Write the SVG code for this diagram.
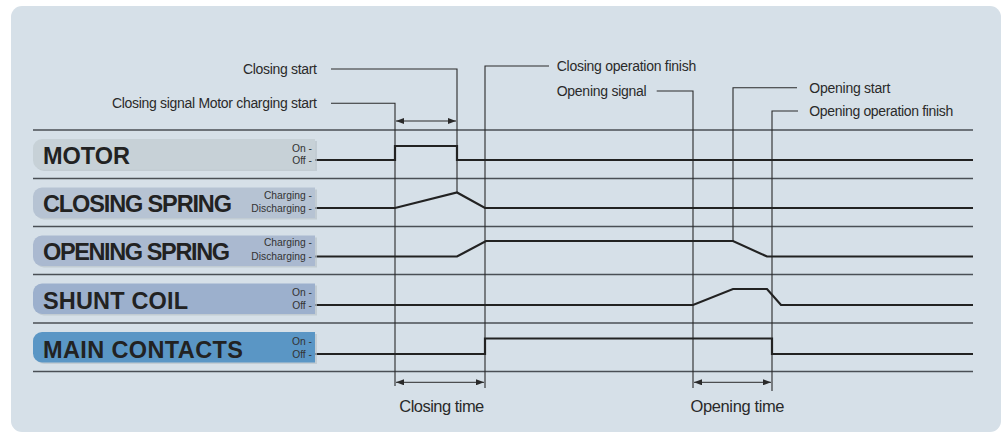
<svg xmlns="http://www.w3.org/2000/svg" width="1003" height="434" viewBox="0 0 1003 434">
<style>
.lbl{font-family:"Liberation Sans",Arial,sans-serif;font-weight:bold;font-size:23.5px;fill:#222}
.st{font-family:"Liberation Sans",Arial,sans-serif;font-size:10.3px;fill:#333;text-anchor:end}
.cap{font-family:"Liberation Sans",Arial,sans-serif;font-size:14px;fill:#2a2a2a}
.tm{font-family:"Liberation Sans",Arial,sans-serif;font-size:16.5px;fill:#2a2a2a}
.grid{stroke:#4a4f55;stroke-width:1.3;fill:none}
.wave{stroke:#222;stroke-width:2.2;fill:none;stroke-linejoin:miter}
.call{stroke:#2a2a2a;stroke-width:1.1;fill:none}
.dim{stroke:#2a2a2a;stroke-width:1;fill:none;marker-start:url(#ah);marker-end:url(#ah)}
.shadow{fill:#b9c3cb;opacity:0.7}
</style>
<defs>
<marker id="ah" viewBox="0 0 8 6" refX="8" refY="3" markerWidth="8" markerHeight="6" markerUnits="userSpaceOnUse" orient="auto-start-reverse">
<path d="M0,0 L8,3 L0,6 z" fill="#2a2a2a"/>
</marker>
</defs>
<rect x="11" y="6" width="990" height="426" rx="11" fill="#d6e0e8"/>

<g id="connectors">
<g id="grid">
<line class="grid" x1="33" y1="130" x2="973" y2="130"/>
<line class="grid" x1="33" y1="178.5" x2="973" y2="178.5"/>
<line class="grid" x1="33" y1="226.5" x2="973" y2="226.5"/>
<line class="grid" x1="33" y1="274.5" x2="973" y2="274.5"/>
<line class="grid" x1="33" y1="323" x2="973" y2="323"/>
<line class="grid" x1="33" y1="371.5" x2="973" y2="371.5"/>
</g>
<g id="callouts">
<polyline class="call" points="331,69 457,69 457,192.5"/>
<polyline class="call" points="331,103.3 395,103.3 395,386"/>
<polyline class="call" points="549,66 485,66 485,388"/>
<polyline class="call" points="656.7,91 693,91 693,388"/>
<polyline class="call" points="797,87.7 733,87.7 733,241"/>
<polyline class="call" points="798,111 772,111 772,391" stroke="#555"/>
</g>
<g id="dimensions">
<line class="dim" x1="396" y1="121" x2="456" y2="121"/>
<line class="dim" x1="396" y1="382.3" x2="484" y2="382.3"/>
<line class="dim" x1="694" y1="382.3" x2="771" y2="382.3"/>
</g>
<g id="waveforms">
<path class="wave" d="M313,160 H395 V146 H457 V160 H973"/>
<path class="wave" d="M313,208 H395 L457,192.5 L485,208 H973"/>
<path class="wave" d="M313,256.5 H457 L486,241 H733 L767,256.5 H973"/>
<path class="wave" d="M313,305 H693 L733,289 H767 L781,305 H973"/>
<path class="wave" d="M313,354 H485 V338.5 H772 V354 H973"/>
</g>
</g>

<g id="motor">
<path class="shadow" d="M44,141 H317 V171 H44 A9,9 0 0 1 35,162 V150 A9,9 0 0 1 44,141 Z"/>
<path d="M42,139 H315 V169.5 H42 A9,9 0 0 1 33,160.5 V148 A9,9 0 0 1 42,139 Z" fill="#c7d1d7"/>
<text class="lbl" x="43" y="163.5" textLength="87">MOTOR</text>
<text class="st" x="312" y="151.5">On -</text>
<text class="st" x="312" y="163.5">Off -</text>
</g>

<g id="closing-spring">
<path class="shadow" d="M44,189.5 H317 V219.5 H44 A9,9 0 0 1 35,210.5 V198.5 A9,9 0 0 1 44,189.5 Z"/>
<path d="M42,187.5 H315 V218 H42 A9,9 0 0 1 33,209 V196.5 A9,9 0 0 1 42,187.5 Z" fill="#b6c3d3"/>
<text class="lbl" x="43" y="211.5" textLength="189">CLOSING SPRING</text>
<text class="st" x="312" y="199">Charging -</text>
<text class="st" x="312" y="211.5">Discharging -</text>
</g>

<g id="opening-spring">
<path class="shadow" d="M44,237.5 H317 V267.5 H44 A9,9 0 0 1 35,258.5 V246.5 A9,9 0 0 1 44,237.5 Z"/>
<path d="M42,235.5 H315 V266 H42 A9,9 0 0 1 33,257 V244.5 A9,9 0 0 1 42,235.5 Z" fill="#aab9d0"/>
<text class="lbl" x="43" y="260" textLength="187">OPENING SPRING</text>
<text class="st" x="312" y="245.5">Charging -</text>
<text class="st" x="312" y="260">Discharging -</text>
</g>

<g id="shunt-coil">
<path class="shadow" d="M44,285.5 H317 V315.5 H44 A9,9 0 0 1 35,306.5 V294.5 A9,9 0 0 1 44,285.5 Z"/>
<path d="M42,283.5 H315 V314 H42 A9,9 0 0 1 33,305 V292.5 A9,9 0 0 1 42,283.5 Z" fill="#9cb0cd"/>
<text class="lbl" x="43" y="308.5" textLength="145">SHUNT COIL</text>
<text class="st" x="312" y="296">On -</text>
<text class="st" x="312" y="308.5">Off -</text>
</g>

<g id="main-contacts">
<path class="shadow" d="M44,334 H317 V364 H44 A9,9 0 0 1 35,355 V343 A9,9 0 0 1 44,334 Z"/>
<path d="M42,332 H315 V362.5 H42 A9,9 0 0 1 33,353.5 V341 A9,9 0 0 1 42,332 Z" fill="#5a96c5"/>
<text class="lbl" x="43" y="357.5" textLength="200">MAIN CONTACTS</text>
<text class="st" x="312" y="344.5">On -</text>
<text class="st" x="312" y="357.5">Off -</text>
</g>

<g id="labels">
<text class="cap" x="317" y="74" text-anchor="end" textLength="74">Closing start</text>
<text class="cap" x="317" y="108.3" text-anchor="end" textLength="205">Closing signal Motor charging start</text>
<text class="cap" x="556.7" y="71" textLength="139.5">Closing operation finish</text>
<text class="cap" x="556.7" y="96" textLength="90">Opening signal</text>
<text class="cap" x="809.3" y="92.7" textLength="81">Opening start</text>
<text class="cap" x="809.3" y="116" textLength="144">Opening operation finish</text>
<text class="tm" x="399.3" y="412.3" textLength="85">Closing time</text>
<text class="tm" x="690.5" y="412.3" textLength="94">Opening time</text>
</g>
</svg>
